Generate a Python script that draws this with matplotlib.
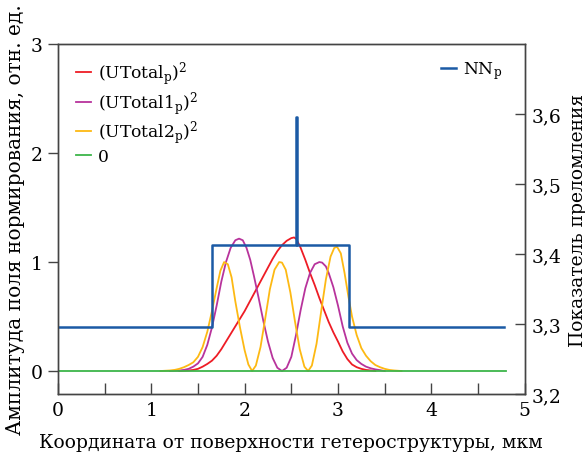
import numpy as np
import matplotlib.pyplot as plt

plt.rcParams["font.family"] = "DejaVu Serif"
plt.rcParams["mathtext.fontset"] = "dejavuserif"

# (UTotal_p)^2 - fundamental mode
red_x = [1.30, 1.40, 1.45, 1.50, 1.55, 1.60, 1.65, 1.70, 1.75, 1.80, 1.85, 1.90,
         1.95, 2.00, 2.05, 2.10, 2.15, 2.20, 2.25, 2.30, 2.35, 2.40, 2.45, 2.50,
         2.53, 2.555, 2.60, 2.65, 2.70, 2.75, 2.80, 2.85, 2.90, 2.95, 3.00, 3.05,
         3.10, 3.15, 3.20, 3.25, 3.30, 3.35, 3.40]
red_y = [0.0, 0.005, 0.01, 0.02, 0.04, 0.065, 0.095, 0.14, 0.20, 0.27, 0.34, 0.41,
         0.48, 0.55, 0.63, 0.71, 0.79, 0.87, 0.95, 1.03, 1.10, 1.155, 1.195, 1.22,
         1.226, 1.21, 1.13, 1.02, 0.90, 0.79, 0.67, 0.56, 0.45, 0.355, 0.27, 0.18,
         0.11, 0.06, 0.035, 0.02, 0.01, 0.005, 0.0]

# (UTotal1_p)^2 - first order mode
mag_x = [1.20, 1.30, 1.35, 1.40, 1.45, 1.50, 1.55, 1.60, 1.65, 1.70, 1.75, 1.80,
         1.85, 1.90, 1.94, 1.98, 2.02, 2.06, 2.10, 2.15, 2.20, 2.25, 2.30, 2.35,
         2.40, 2.45, 2.50, 2.55, 2.60, 2.65, 2.70, 2.75, 2.80, 2.83, 2.87, 2.90,
         2.95, 3.00, 3.05, 3.10, 3.15, 3.20, 3.25, 3.30, 3.35, 3.40, 3.45, 3.50]
mag_y = [0.0, 0.005, 0.01, 0.02, 0.04, 0.07, 0.13, 0.24, 0.40, 0.60, 0.82, 1.00,
         1.13, 1.20, 1.215, 1.20, 1.13, 1.02, 0.87, 0.67, 0.46, 0.27, 0.12, 0.03,
         0.0, 0.03, 0.13, 0.33, 0.56, 0.76, 0.90, 0.98, 1.00, 0.995, 0.96, 0.90,
         0.77, 0.60, 0.41, 0.26, 0.16, 0.10, 0.065, 0.04, 0.025, 0.015, 0.008, 0.0]

# (UTotal2_p)^2 - second order mode
yel_x = [1.10, 1.20, 1.25, 1.30, 1.35, 1.40, 1.45, 1.50, 1.55, 1.60, 1.65, 1.70,
         1.74, 1.78, 1.82, 1.86, 1.90, 1.95, 2.00, 2.04, 2.08, 2.12, 2.17, 2.22,
         2.27, 2.32, 2.37, 2.40, 2.44, 2.49, 2.54, 2.59, 2.64, 2.68, 2.72, 2.77,
         2.82, 2.87, 2.92, 2.96, 2.99, 3.03, 3.07, 3.11, 3.15, 3.20, 3.25, 3.30,
         3.35, 3.40, 3.45, 3.50, 3.55, 3.60, 3.68]
yel_y = [0.0, 0.005, 0.01, 0.02, 0.035, 0.055, 0.08, 0.13, 0.22, 0.36, 0.55, 0.76,
         0.92, 1.00, 0.98, 0.86, 0.64, 0.40, 0.19, 0.06, 0.0, 0.05, 0.22, 0.48,
         0.75, 0.93, 1.00, 0.995, 0.93, 0.72, 0.45, 0.20, 0.04, 0.0, 0.05, 0.25,
         0.55, 0.84, 1.05, 1.13, 1.14, 1.08, 0.90, 0.69, 0.50, 0.33, 0.21, 0.14,
         0.09, 0.055, 0.035, 0.02, 0.01, 0.005, 0.0]

zero_x = [0.0, 4.8]
zero_y = [0.0, 0.0]

# refractive index profile NN_p
nn_x = [0.0, 1.65, 1.65, 2.555, 2.555, 2.56, 2.56, 3.115, 3.115, 4.78]
nn_y = [3.295, 3.295, 3.413, 3.413, 3.596, 3.596, 3.413, 3.413, 3.295, 3.295]

fig = plt.figure(figsize=(5.85, 4.56), dpi=100)
ax = fig.add_axes([0.099, 0.134, 0.798, 0.767])

ax.plot(red_x, red_y, color="#ee1c25", lw=1.3, label="(UTotal$_\\mathregular{p}$)$^\\mathregular{2}$")
ax.plot(mag_x, mag_y, color="#b8339c", lw=1.3, label="(UTotal1$_\\mathregular{p}$)$^\\mathregular{2}$")
ax.plot(yel_x, yel_y, color="#fdb913", lw=1.3, label="(UTotal2$_\\mathregular{p}$)$^\\mathregular{2}$")
ax.plot(zero_x, zero_y, color="#3db54a", lw=1.3, label="0")

ax.set_xlim(0, 5)
ax.set_ylim(-0.21, 3)
ax.set_xticks([0, 1, 2, 3, 4, 5])
ax.set_xticks([0.5, 1.5, 2.5, 3.5, 4.5], minor=True)
ax.set_yticks([0, 1, 2, 3])
ax.tick_params(axis="x", which="both", direction="in", length=8, width=1,
               color="#444444", labelsize=13.5, pad=5)
ax.tick_params(axis="y", direction="out", length=7, width=1, color="#444444",
               labelsize=13.5, pad=4)
for s in ax.spines.values():
    s.set_color("#444444")
    s.set_linewidth(1)

ax.set_xlabel("Координата от поверхности гетероструктуры, мкм", fontsize=13.5, labelpad=10)
ax.set_ylabel("Амплитуда поля нормирования, отн. ед.", fontsize=14.5, labelpad=4)

ax.legend(loc="upper left", frameon=False, fontsize=12.3, handlelength=0.9,
          handletextpad=0.4, labelspacing=0.1, bbox_to_anchor=(0.005, 1.0))

ax2 = ax.twinx()
ax2.plot(nn_x, nn_y, color="#1b5aa5", lw=1.8, label="NN$_\\mathregular{p}$")
ax2.set_ylim(3.2, 3.7)
ax2.set_yticks([3.2, 3.3, 3.4, 3.5, 3.6])
ax2.set_yticklabels(["3,2", "3,3", "3,4", "3,5", "3,6"])
ax2.tick_params(axis="y", direction="in", length=7, width=1, color="#444444",
                labelsize=13.5, pad=5)
for s in ax2.spines.values():
    s.set_color("#444444")
    s.set_linewidth(1)
ax2.set_ylabel("Показатель преломления", fontsize=13.5, labelpad=5)
ax2.legend(loc="upper right", frameon=False, fontsize=12.3, handlelength=0.9,
           handletextpad=0.4, bbox_to_anchor=(0.985, 1.0))

fig.savefig("out.png", dpi=100)
